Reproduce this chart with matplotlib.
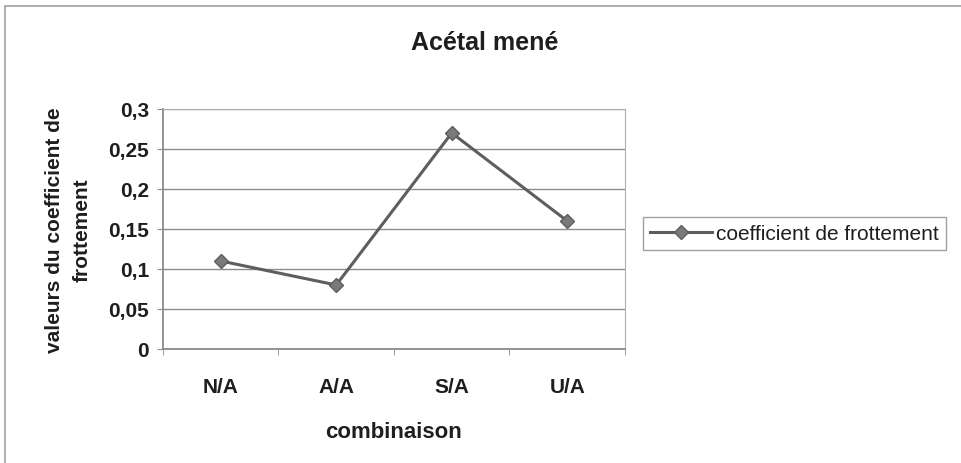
import matplotlib
matplotlib.use("Agg")
import matplotlib.pyplot as plt
from matplotlib.patches import Rectangle
from matplotlib.ticker import FuncFormatter

plt.rcParams['font.family'] = ['Liberation Sans', 'DejaVu Sans']

categories = ["N/A", "A/A", "S/A", "U/A"]
coef_values = [0.11, 0.08, 0.27, 0.16]
y_ticks = [0, 0.05, 0.1, 0.15, 0.2, 0.25, 0.3]

fig = plt.figure(figsize=(9.62, 4.64), dpi=100)
fig.patch.set_facecolor("white")

# outer chart frame
fig.add_artist(Rectangle((0.005, -0.02), 1.2, 1.005, transform=fig.transFigure,
                         fill=False, edgecolor="#a0a0a0", linewidth=1.2))

ax = fig.add_axes([0.1694, 0.2457, 0.4803, 0.5173])
x = list(range(len(categories)))
line, = ax.plot(x, coef_values, color="#5e5e5e", linewidth=2.2,
                marker="D", markersize=7, markerfacecolor="#7a7a7a",
                markeredgecolor="#5e5e5e", label="coefficient de frottement",
                zorder=3)

ax.set_xlim(-0.5, len(categories) - 0.5)
ax.set_ylim(0, 0.3)
ax.set_yticks(y_ticks)
ax.yaxis.set_major_formatter(FuncFormatter(lambda v, p: ("%g" % round(v, 2)).replace(".", ",")))
ax.set_xticks(x)
ax.set_xticklabels(categories)
ax.set_xticks([i - 0.5 for i in range(len(categories) + 1)], minor=True)
ax.tick_params(axis="x", which="major", length=0, pad=20, labelsize=15)
ax.tick_params(axis="x", which="minor", length=4, color="#8a8a8a")
ax.tick_params(axis="y", length=4, color="#8a8a8a", labelsize=15, pad=6)
for lbl in ax.get_xticklabels() + ax.get_yticklabels():
    lbl.set_fontweight("bold")
    lbl.set_color("#1e1e1e")

ax.grid(axis="y", color="#8c8c8c", linewidth=1.0)
ax.set_axisbelow(True)
for side in ["top", "right"]:
    ax.spines[side].set_color("#b0b0b0")
for side in ["left", "bottom"]:
    ax.spines[side].set_color("#8a8a8a")
    ax.spines[side].set_linewidth(1.3)

ax.set_xlabel("combinaison", fontsize=16, fontweight="bold", color="#1e1e1e", labelpad=18)
ax.set_ylabel("valeurs du coefficient de\nfrottement", fontsize=15, fontweight="bold",
              color="#1e1e1e", labelpad=12, linespacing=1.6)
fig.text(0.504, 0.908, "Acétal mené", ha="center", va="center",
         fontsize=18, fontweight="bold", color="#1e1e1e")

leg = fig.legend(handles=[line], loc="center left", bbox_to_anchor=(0.668, 0.495),
                 frameon=True, fancybox=False, fontsize=15, handlelength=3.0,
                 handletextpad=0.15, borderpad=0.35, borderaxespad=0.0,
                 markerscale=1.0)
leg.get_frame().set_edgecolor("#8a8a8a")
leg.get_frame().set_linewidth(1.0)
for t in leg.get_texts():
    t.set_color("#1e1e1e")

fig.savefig("out.png", dpi=100, facecolor="white")
